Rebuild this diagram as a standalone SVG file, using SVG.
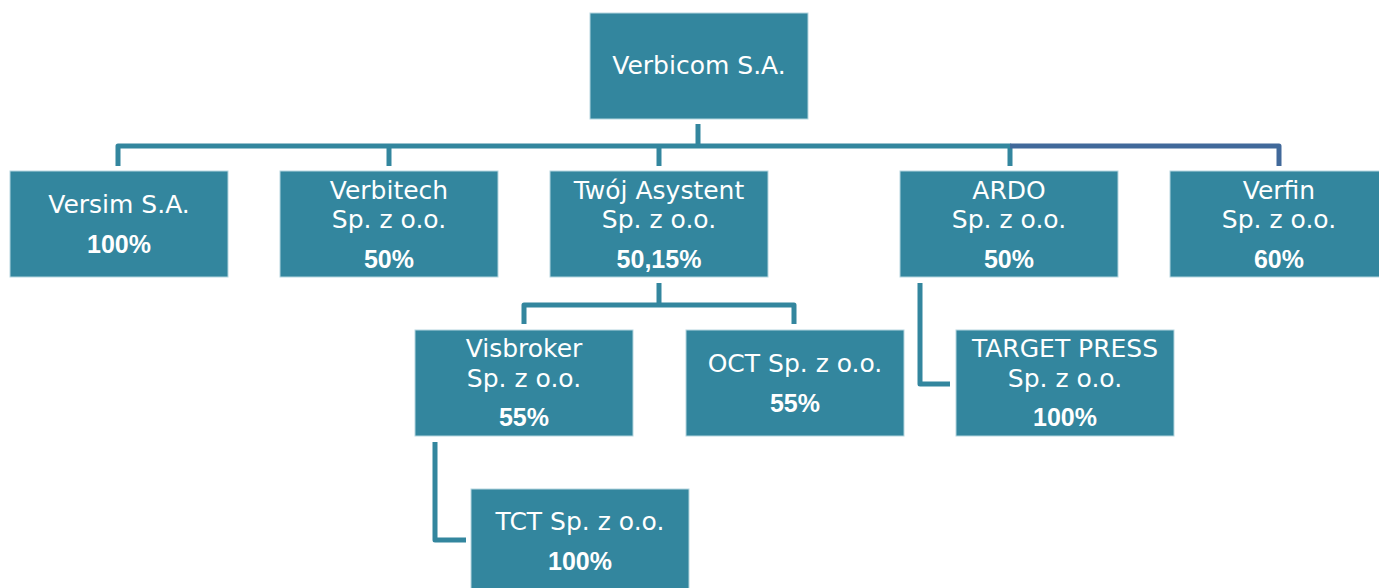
<svg xmlns="http://www.w3.org/2000/svg" width="1379" height="588" viewBox="0 0 1379 588">
<style>
.box{fill:#33869E;stroke:#B5D6DF;stroke-width:1}
.t{font-family:"DejaVu Sans",sans-serif;font-size:25px;fill:#FFFFFF;text-anchor:middle}
.p{font-family:"Liberation Sans",Arial,sans-serif;font-size:25px;font-weight:bold;fill:#FFFFFF;text-anchor:middle}
.c{fill:none;stroke:#33869E;stroke-width:5;stroke-linejoin:round}
.d{fill:none;stroke:#41699A;stroke-width:5;stroke-linejoin:round}
</style>
<rect width="1379" height="588" fill="#FFFFFF"/>
<g id="connectors">
<path class="c" d="M698,124 V146"/>
<path class="c" d="M118,166 V146 H1010 V166"/>
<path class="c" d="M389,146 V166"/>
<path class="c" d="M659,146 V166"/>
<path class="d" d="M1010,146 H1279 V166"/>
<path class="c" d="M659,283 V305"/>
<path class="c" d="M524,324 V305 H794 V324"/>
<path class="c" d="M920,283 V384 H950"/>
<path class="c" d="M435,442 V540 H466"/>
</g>
<g id="verbicom">
<rect class="box" x="590" y="13" width="218" height="106"/>
<text class="t" x="699" y="74">Verbicom S.A.</text>
</g>
<g id="versim">
<rect class="box" x="10" y="171" width="218" height="106"/>
<text class="t" x="119" y="213">Versim S.A.</text>
<text class="p" x="119" y="253">100%</text>
</g>
<g id="verbitech">
<rect class="box" x="280" y="171" width="218" height="106"/>
<text class="t" x="389" y="199">Verbitech</text>
<text class="t" x="389" y="228">Sp. z o.o.</text>
<text class="p" x="389" y="268">50%</text>
</g>
<g id="twoj-asystent">
<rect class="box" x="550" y="171" width="218" height="106"/>
<text class="t" x="659" y="199">Twój Asystent</text>
<text class="t" x="659" y="228">Sp. z o.o.</text>
<text class="p" x="659" y="268">50,15%</text>
</g>
<g id="ardo">
<rect class="box" x="900" y="171" width="218" height="106"/>
<text class="t" x="1009" y="199">ARDO</text>
<text class="t" x="1009" y="228">Sp. z o.o.</text>
<text class="p" x="1009" y="268">50%</text>
</g>
<g id="verfin">
<rect class="box" x="1170" y="171" width="218" height="106"/>
<text class="t" x="1279" y="199">Verfin</text>
<text class="t" x="1279" y="228">Sp. z o.o.</text>
<text class="p" x="1279" y="268">60%</text>
</g>
<g id="visbroker">
<rect class="box" x="415" y="330" width="218" height="106"/>
<text class="t" x="524" y="357">Visbroker</text>
<text class="t" x="524" y="387">Sp. z o.o.</text>
<text class="p" x="524" y="426">55%</text>
</g>
<g id="oct">
<rect class="box" x="686" y="330" width="218" height="106"/>
<text class="t" x="795" y="372">OCT Sp. z o.o.</text>
<text class="p" x="795" y="412">55%</text>
</g>
<g id="target-press">
<rect class="box" x="956" y="330" width="218" height="106"/>
<text class="t" x="1065" y="357">TARGET PRESS</text>
<text class="t" x="1065" y="387">Sp. z o.o.</text>
<text class="p" x="1065" y="426">100%</text>
</g>
<g id="tct">
<rect class="box" x="471" y="489" width="218" height="110"/>
<text class="t" x="580" y="530">TCT Sp. z o.o.</text>
<text class="p" x="580" y="570">100%</text>
</g>
</svg>
